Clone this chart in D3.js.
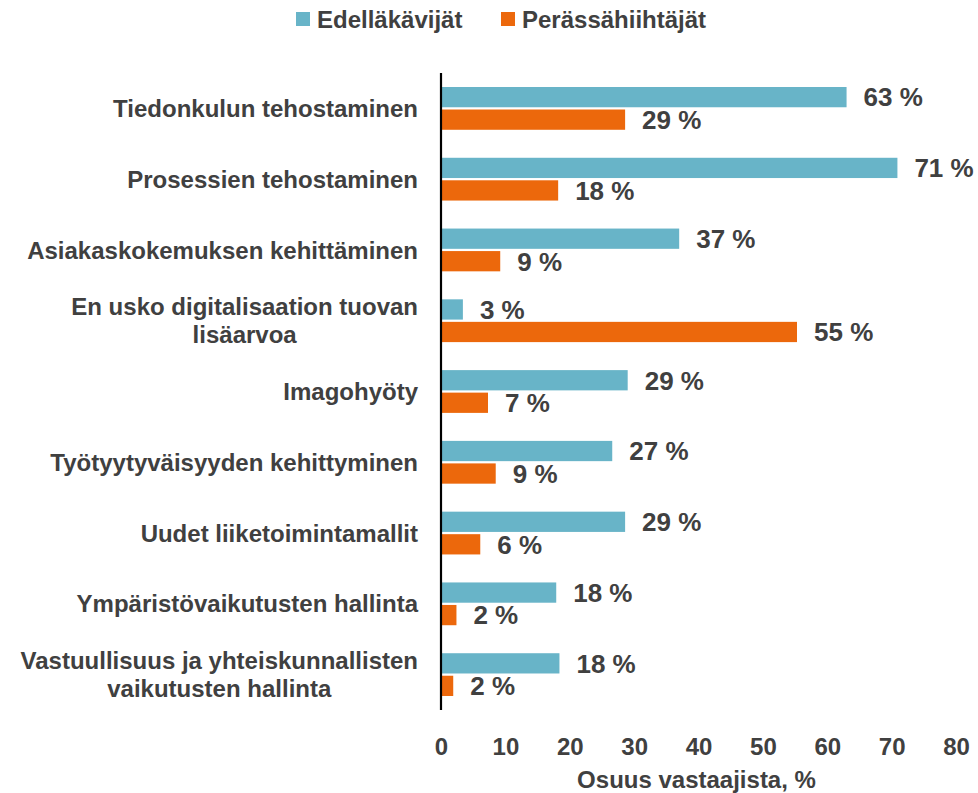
<!DOCTYPE html>
<html>
<head>
<meta charset="utf-8">
<script src="https://cdn.jsdelivr.net/npm/d3@7"></script>
<style>
  body { margin: 0; background: #fff; }
  text { font-family: "Liberation Sans", Arial, sans-serif; font-weight: bold; fill: #404040; }
</style>
</head>
<body>
<svg id="chart" width="978" height="793"></svg>
<script>
var categories = [
  ["Tiedonkulun tehostaminen"],
  ["Prosessien tehostaminen"],
  ["Asiakaskokemuksen kehittäminen"],
  ["En usko digitalisaation tuovan", "lisäarvoa"],
  ["Imagohyöty"],
  ["Työtyytyväisyyden kehittyminen"],
  ["Uudet liiketoimintamallit"],
  ["Ympäristövaikutusten hallinta"],
  ["Vastuullisuus ja yhteiskunnallisten", "vaikutusten hallinta"]
]

var seriesNames = ["Edelläkävijät", "Perässähiihtäjät"]
var seriesColors = ["#68B4C8", "#EC680C"]

// values (labels are rounded)
var leaders = [63.0, 70.9, 37.0, 3.4, 29.0, 26.6, 28.6, 17.9, 18.4]
var laggards = [28.6, 18.2, 9.2, 55.3, 7.3, 8.5, 6.1, 2.4, 1.9]

var xTicks = [0, 10, 20, 30, 40, 50, 60, 70, 80]
var xTitle = "Osuus vastaajista, %"

var margin = {top: 73, left: 441, right: 22, bottom: 83}
var width = 978 - margin.left - margin.right
var height = 793 - margin.top - margin.bottom

var svg = d3.select("#chart")

var x = d3.scaleLinear().domain([0, 80]).range([0, width])

var y0 = d3.scaleBand()
  .domain(d3.range(categories.length))
  .range([0, height])
  .paddingInner(0)

var y1 = d3.scaleBand()
  .domain([0, 1])
  .range([14, y0.bandwidth() - 14])
  .paddingInner(0.1)

var main = svg.append("g")
  .attr("transform", "translate(" + margin.left + "," + margin.top + ")")

var rows = categories.map(function(c, i) {
  return {i: i, vals: [leaders[i], laggards[i]]}
})

var groups = main.selectAll(".grp")
  .data(rows)
  .enter().append("g")
  .attr("class", "grp")
  .attr("transform", function(d) { return "translate(0," + y0(d.i) + ")" })

groups.selectAll("rect")
  .data(function(d) { return d.vals })
  .enter().append("rect")
  .attr("x", 0)
  .attr("y", function(d, s) { return y1(s) })
  .attr("width", function(d) { return x(d) })
  .attr("height", y1.bandwidth())
  .attr("fill", function(d, s) { return seriesColors[s] })

groups.selectAll(".val")
  .data(function(d) { return d.vals })
  .enter().append("text")
  .attr("class", "val")
  .attr("x", function(d) { return x(d) + 17 })
  .attr("y", function(d, s) { return y1(s) + y1.bandwidth() / 2 })
  .attr("dy", "0.36em")
  .attr("font-size", 26)
  .text(function(d) { return Math.round(d) + " %" })

// category labels, multi-line ones centred on their widest line
var labelRight = 418
var lineH = 28
var labels = main.selectAll(".cat")
  .data(categories)
  .enter().append("text")
  .attr("class", "cat")
  .attr("font-size", 24)
  .attr("text-anchor", "middle")

labels.each(function(lines, i) {
  var t = d3.select(this)
  var cy = y0(i) + y0.bandwidth() / 2
  lines.forEach(function(l, k) {
    t.append("tspan")
      .attr("y", cy + (k - (lines.length - 1) / 2) * lineH)
      .attr("dy", "0.36em")
      .text(l)
  })
  var maxW = 0
  t.selectAll("tspan").each(function() {
    maxW = Math.max(maxW, this.getComputedTextLength())
  })
  t.selectAll("tspan").attr("x", labelRight - margin.left - maxW / 2)
})

// y axis line
main.append("line")
  .attr("x1", 0).attr("x2", 0)
  .attr("y1", 0).attr("y2", height)
  .attr("stroke", "#000")
  .attr("stroke-width", 2.2)

// x axis (labels only)
var xAxis = d3.axisBottom(x).tickValues(xTicks).tickSize(0).tickPadding(0)
var gx = main.append("g")
  .attr("transform", "translate(0," + (height + 36) + ")")
  .call(xAxis)
gx.select(".domain").remove()
gx.selectAll("text")
  .attr("font-size", 24)
  .attr("fill", "#404040")
  .attr("font-family", null)
  .attr("dy", "0.36em")
  .attr("y", 0)

main.append("text")
  .attr("x", width / 2 - 2)
  .attr("y", height + 69)
  .attr("dy", "0.36em")
  .attr("text-anchor", "middle")
  .attr("font-size", 24)
  .text(xTitle)

// legend
var legendX = [296, 501]
var legend = svg.selectAll(".leg")
  .data(seriesNames)
  .enter().append("g")
  .attr("class", "leg")
  .attr("transform", function(d, i) { return "translate(" + legendX[i] + ",12)" })

legend.append("rect")
  .attr("width", 14).attr("height", 14)
  .attr("fill", function(d, i) { return seriesColors[i] })

legend.append("text")
  .attr("x", 21)
  .attr("y", 7)
  .attr("dy", "0.36em")
  .attr("font-size", 24)
  .text(function(d) { return d })
</script>
</body>
</html>
